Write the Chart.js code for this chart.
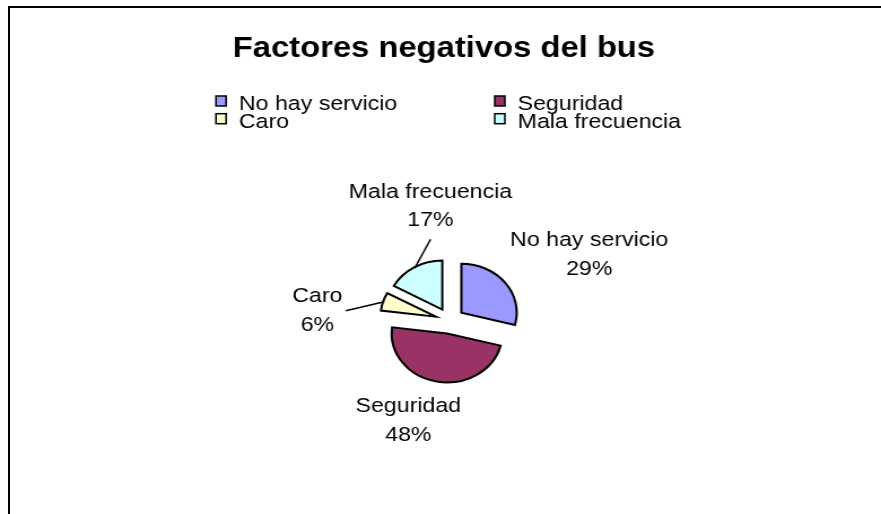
<!DOCTYPE html>
<html>
<head>
<meta charset="utf-8">
<script src="https://cdn.jsdelivr.net/npm/chart.js"></script>
<style>
  html, body { margin: 0; padding: 0; background: #fff; overflow: hidden; }
  body { width: 881px; height: 514px; position: relative; }
  /* the old Excel chart frame: only top and left edges show */
  #frame {
    position: absolute; left: 8px; top: 6px; right: -20px; bottom: -20px;
    border-left: 2px solid #000; border-top: 2px solid #000;
  }
  /* the reference was stretched sideways, so the pie is an ellipse */
  #wrap {
    position: absolute; left: 0; top: 0; width: 780px; height: 514px;
    transform: scaleX(1.1295); transform-origin: 0 0;
  }
</style>
</head>
<body>
<div id="frame"></div>
<div id="wrap"><canvas id="chart"></canvas></div>
<script>
// Data
const categories = ['No hay servicio', 'Seguridad', 'Caro', 'Mala frecuencia'];
const shares = [29, 48, 6, 17];
const sliceColors = ['#9999FF', '#993366', '#FFFFCC', '#CCFFFF'];
const chartTitle = 'Factores negativos del bus';

const fontFamily = '"Liberation Sans", Arial, sans-serif';

// Arc that is pulled out from the centre (Excel "exploded" pie)
class ExplodedArc extends Chart.ArcElement {
  draw(ctx) {
    const mid = (this.startAngle + this.endAngle) / 2;
    const d = this.options.explode || 0;
    ctx.save();
    ctx.translate(Math.cos(mid) * d, Math.sin(mid) * d);
    super.draw(ctx);
    ctx.restore();
  }
}
ExplodedArc.id = 'explodedArc';
ExplodedArc.defaults = Object.assign({}, Chart.ArcElement.defaults, { explode: 0 });
Chart.register(ExplodedArc);
Chart.defaults.datasets.pie.dataElementType = 'explodedArc';

// Title, 2x2 legend and the outside data labels
const excelText = {
  id: 'excelText',
  afterDraw(chart, args, opts) {
    const ctx = chart.ctx;
    const meta = chart.getDatasetMeta(0);
    const ds = chart.data.datasets[0];
    ctx.save();

    // title
    ctx.fillStyle = '#000';
    ctx.font = 'bold 29px ' + fontFamily;
    ctx.textAlign = 'center';
    ctx.textBaseline = 'alphabetic';
    ctx.fillText(chartTitle, opts.titleX, opts.titleY);

    // legend, two columns
    ctx.font = opts.fontSize + 'px ' + fontFamily;
    ctx.textAlign = 'left';
    chart.data.labels.forEach((lab, i) => {
      const col = i % 2, row = Math.floor(i / 2);
      const bx = opts.legendCols[col];
      const base = opts.legendTop + row * opts.legendRow;
      ctx.fillStyle = ds.backgroundColor[i];
      ctx.fillRect(bx, base - 14, 9, 10);
      ctx.lineWidth = 1.5;
      ctx.strokeStyle = '#000';
      ctx.strokeRect(bx, base - 14, 9, 10);
      ctx.fillStyle = '#000';
      ctx.fillText(lab, bx + 20.3, base);
    });

    // data labels with leader lines
    ctx.textAlign = 'center';
    ctx.textBaseline = 'middle';
    ctx.lineWidth = 1.5;
    meta.data.forEach((arc, i) => {
      const p = arc.getProps(['x', 'y', 'startAngle', 'endAngle', 'outerRadius'], true);
      const mid = (p.startAngle + p.endAngle) / 2;
      const d = arc.options.explode || 0;
      const ex = p.x + Math.cos(mid) * (d + p.outerRadius + 1);
      const ey = p.y + Math.sin(mid) * (d + p.outerRadius + 1);
      const lx = ex + opts.nudges[i][0];
      const ly = ey + opts.nudges[i][1];
      ctx.fillText(chart.data.labels[i], lx, ly - opts.lineGap / 2);
      ctx.fillText(ds.data[i] + '%', lx, ly + opts.lineGap / 2);
      const lead = opts.leaders[i];
      if (lead) {
        ctx.beginPath();
        ctx.moveTo(lx + lead[0], ly + lead[1]);
        ctx.lineTo(p.x + Math.cos(mid) * (d + p.outerRadius - 1),
                   p.y + Math.sin(mid) * (d + p.outerRadius - 1));
        ctx.stroke();
      }
    });
    ctx.restore();
  }
};

const chartElement = document.getElementById('chart');
const pieChart = new Chart(chartElement, {
  type: 'pie',
  data: {
    labels: categories,
    datasets: [{
      data: shares,
      backgroundColor: sliceColors,
      borderColor: '#000',
      borderWidth: 2,
      borderJoinStyle: 'miter',
      explode: 13
    }]
  },
  options: {
    responsive: true,
    maintainAspectRatio: false,
    animation: false,
    events: [],
    radius: 49,
    layout: {
      padding: { left: 298.2, right: 281.8, top: 220.7, bottom: 93.3 }
    },
    plugins: {
      legend: { display: false },
      title: { display: false },
      tooltip: { enabled: false },
      excelText: {
        titleX: 393,
        titleY: 57,
        fontSize: 20.5,
        legendCols: [191.2, 438],
        legendTop: 110,
        legendRow: 17.7,
        lineGap: 28.5,
        nudges: [[73.7, -27], [-24.9, 38.3], [-57.3, 9.7], [14.9, -60.3]],
        leaders: [null, null, [25.2, -0.2], [0.2, 33.1]]
      }
    }
  },
  plugins: [excelText]
});
</script>
</body>
</html>
